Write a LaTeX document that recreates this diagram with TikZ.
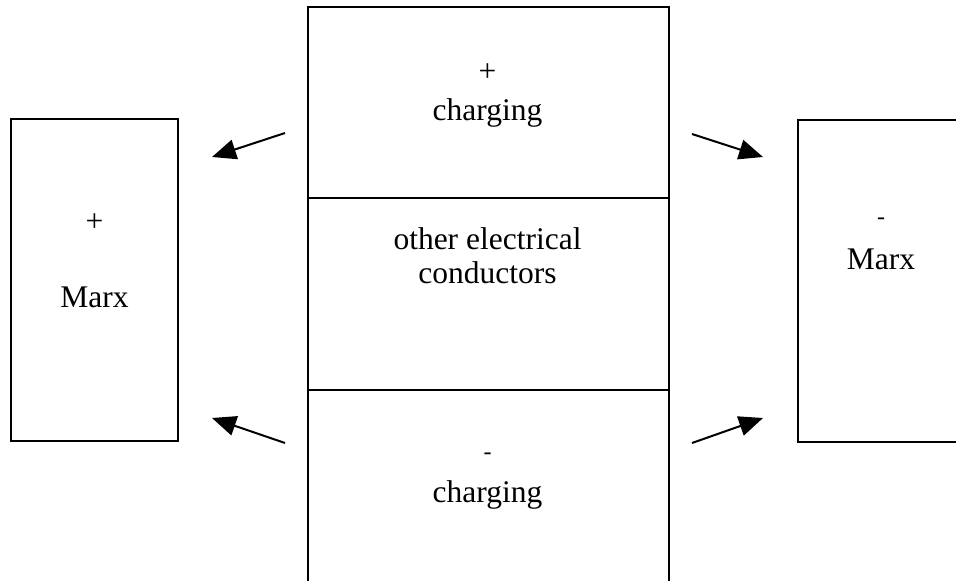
\documentclass[tikz,border=0pt]{standalone}
\usepackage{fontspec}
\setmainfont{Liberation Serif}
\usetikzlibrary{arrows.meta}
\begin{document}
\begin{tikzpicture}[x=1pt,y=-1pt,
  box/.style={draw, line width=2pt, rectangle, inner sep=0pt},
  lbl/.style={font=\fontsize{31.5}{36}\selectfont, anchor=base, inner sep=0pt},
  sgn/.style={font=\fontsize{31.5}{36}\selectfont, anchor=center, inner sep=0pt},
  dsh/.style={font=\fontsize{24}{28}\selectfont, anchor=center, inner sep=0pt},
  arr/.style={-{Triangle[length=24pt,width=20pt]}, line width=2pt}]
\useasboundingbox (0,0) rectangle (956,581);
% boxes
\node[box, minimum width=167pt, minimum height=322pt] (lbox) at (94.5,279.5) {};
\node[box, minimum width=175pt, minimum height=322pt, anchor=north west] (rbox) at (797,118.5) {};
\node[box, minimum width=361pt, minimum height=191.5pt, anchor=north west] (top) at (307,5.7) {};
\node[box, minimum width=361pt, minimum height=192pt, anchor=north west] (mid) at (307,197.2) {};
\node[box, minimum width=361pt, minimum height=210pt, anchor=north west] (bot) at (307,389.2) {};
% texts
\node[sgn] (tplus) at (487.5,73) {+};
\node[lbl] (tchg) at (487.5,120.7) {charging};
\node[lbl] (mt1) at (487.5,249) {other electrical};
\node[lbl] (mt2) at (487.5,283) {conductors};
\node[dsh] (bminus) at (487.5,456) {-};
\node[lbl] (bchg) at (487.5,502.5) {charging};
\node[sgn] (lplus) at (94.5,223) {+};
\node[lbl] (lmarx) at (94.5,307) {Marx};
\node[dsh] (rminus) at (881,221) {-};
\node[lbl] (rmarx) at (881,269) {Marx};
% arrows
\coordinate (a1s) at (285,133); \coordinate (a1e) at (212,157);
\coordinate (a2s) at (692,134); \coordinate (a2e) at (763,157);
\coordinate (a3s) at (285,443); \coordinate (a3e) at (212,418);
\coordinate (a4s) at (692,443); \coordinate (a4e) at (763,418);
\draw[arr] (a1s) -- (a1e);
\draw[arr] (a2s) -- (a2e);
\draw[arr] (a3s) -- (a3e);
\draw[arr] (a4s) -- (a4e);
\end{tikzpicture}
\end{document}
